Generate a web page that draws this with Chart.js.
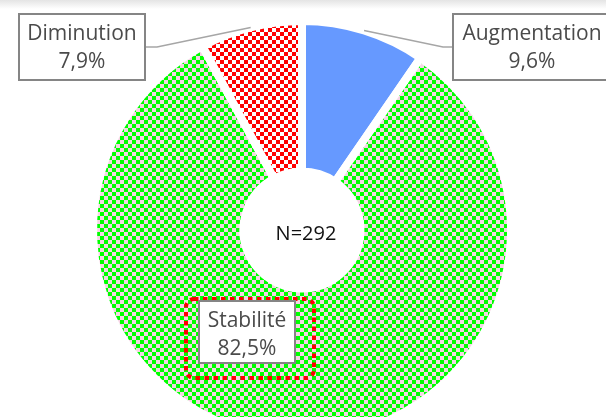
<!DOCTYPE html>
<html>
<head>
<meta charset="utf-8">
<script src="https://cdn.jsdelivr.net/npm/chart.js@4"></script>
<style>
  html, body { margin: 0; padding: 0; background: #fff; overflow: hidden; }
  body { width: 606px; height: 417px; position: relative; }
  #ombre { position: absolute; left: 0; top: 0; width: 606px; height: 9px;
    background: linear-gradient(#e4e4e4, #ffffff); z-index: 2; }
  #grafico { position: absolute; left: 0; top: 0; }
</style>
</head>
<body>
<div id="ombre"></div>
<canvas id="grafico" width="606" height="460"></canvas>
<script>
// valeurs
const categories = ["Augmentation", "Stabilité", "Diminution"];
const pourcentages = [9.6, 82.5, 7.9];
const effectif = 292;

const ctx = document.getElementById("grafico");
const c2d = ctx.getContext("2d");

// motif en damier (remplissage "pattern" d'Excel)
function damier(fond, carre, taille) {
  const cv = document.createElement("canvas");
  cv.width = cv.height = taille * 2;
  const g = cv.getContext("2d");
  g.fillStyle = fond;
  g.fillRect(0, 0, taille * 2, taille * 2);
  g.fillStyle = carre;
  g.fillRect(0, 0, taille, taille);
  g.fillRect(taille, taille, taille, taille);
  return c2d.createPattern(cv, "repeat");
}

const couleurs = [
  "#6699ff",
  damier("#f6d5e5", "#00ff00", 4),
  damier("#ffffff", "#ff0000", 4),
];

const formatPct = (v) => v.toFixed(1).replace(".", ",") + "%";

// position des étiquettes (boîtes)
const boites = [
  { x: 453, y: 14, w: 158, h: 66, coude: 443 },
  { x: 199, y: 301, w: 96, h: 62 },
  { x: 19, y: 14, w: 126, h: 66, coude: 157 },
];

const etiquettes = {
  id: "etiquettes",
  afterDraw(chart) {
    const g = chart.ctx;
    const meta = chart.getDatasetMeta(0);
    const bord = chart.data.datasets[0].borderWidth / 2;
    g.save();

    // texte central
    const a0 = meta.data[0];
    g.fillStyle = "#111";
    g.font = "20px 'Open Sans'";
    g.textAlign = "center";
    g.textBaseline = "middle";
    g.fillText("N=" + effectif, a0.x + 4, a0.y + 4);

    // cadre pointillé rouge autour de Stabilité
    g.strokeStyle = "#ff0000";
    g.lineWidth = 4;
    g.setLineDash([4.5, 4.5]);
    g.beginPath();
    g.roundRect(186, 299, 128, 79, 8);
    g.stroke();
    g.setLineDash([]);

    categories.forEach((nom, i) => {
      const b = boites[i];
      const arc = meta.data[i];
      // traits de rappel
      if (b.coude !== undefined) {
        const mid = (arc.startAngle + arc.endAngle) / 2;
        const r = arc.outerRadius - bord + 4;
        const px = arc.x + Math.cos(mid) * r;
        const py = arc.y + Math.sin(mid) * r;
        const bx = b.coude < b.x ? b.x : b.x + b.w;
        const by = b.y + 33;
        g.strokeStyle = "#a6a6a6";
        g.lineWidth = 1.5;
        g.beginPath();
        g.moveTo(bx, by);
        g.lineTo(b.coude, by);
        g.lineTo(px, py);
        g.stroke();
      }
      g.fillStyle = "#fff";
      g.fillRect(b.x, b.y, b.w, b.h);
      g.strokeStyle = "#858585";
      g.lineWidth = 2;
      g.strokeRect(b.x, b.y, b.w, b.h);
      g.fillStyle = "#4a4a4a";
      g.font = "21px 'Open Sans'";
      g.textAlign = "center";
      g.textBaseline = "alphabetic";
      const cx = b.x + b.w / 2;
      g.fillText(nom, cx, b.y + 26);
      g.fillText(formatPct(pourcentages[i]), cx, b.y + 54);
    });
    g.restore();
  },
};

new Chart(ctx, {
  type: "doughnut",
  data: {
    labels: categories,
    datasets: [
      {
        data: pourcentages,
        backgroundColor: couleurs,
        borderColor: "#ffffff",
        borderWidth: 8,
      },
    ],
  },
  options: {
    responsive: false,
    animation: false,
    events: [],
    radius: 209,
    cutout: "28%",
    layout: { padding: { right: 2 } },
    plugins: {
      legend: { display: false },
      tooltip: { enabled: false },
    },
  },
  plugins: [etiquettes],
});
</script>
</body>
</html>
